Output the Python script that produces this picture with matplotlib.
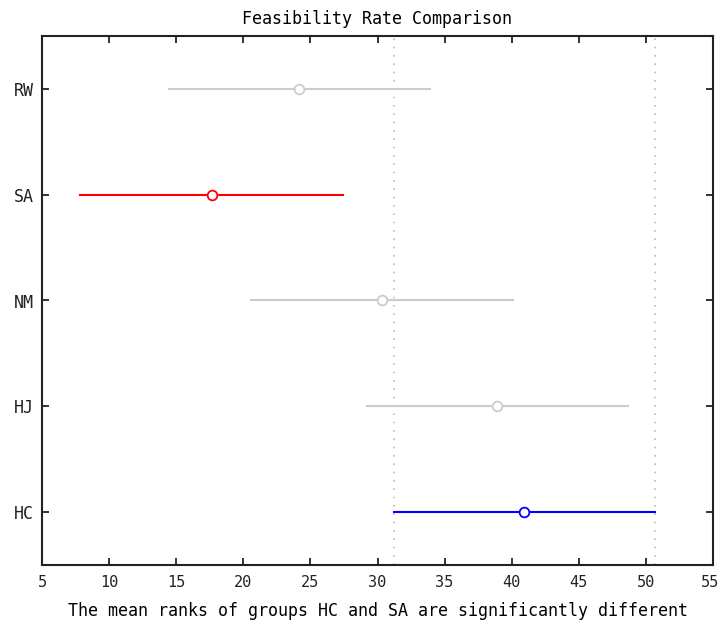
import matplotlib
matplotlib.use("Agg")
import matplotlib.pyplot as plt
import matplotlib.transforms as mtransforms

groups = ["HC", "HJ", "NM", "SA", "RW"]
means = [40.9, 38.9, 30.35, 17.65, 24.15]
lower = [31.2, 29.2, 20.6, 7.85, 14.45]
upper = [50.65, 48.65, 40.1, 27.4, 33.9]
colors = ["#0000ff", "#cccccc", "#cccccc", "#ff0000", "#cccccc"]
ref_lo, ref_hi = 31.2, 50.65
xticks = [5, 10, 15, 20, 25, 30, 35, 40, 45, 50, 55]

plt.rcParams['font.family'] = ['DejaVu Sans Mono']
fig = plt.figure(figsize=(7.21, 6.23), dpi=100)
ax = fig.add_axes([42/721, 1-565/623, (713-42)/721, (565-36)/623])

ypos = list(range(1, len(groups)+1))
for y in (ref_lo, ref_hi):
    ax.axvline(y, color="#bbbbbb", linestyle=(0, (1, 4)), lw=1.2, zorder=1)
for i, g in enumerate(groups):
    ax.plot([lower[i], upper[i]], [ypos[i], ypos[i]], color=colors[i], lw=1.5, zorder=2)
    ax.plot([means[i]], [ypos[i]], marker='o', mfc='white', mec=colors[i], ms=7, mew=1.3, zorder=3)

ax.set_xlim(5, 55)
ax.set_ylim(0.5, len(groups)+0.5)
ax.set_xticks(xticks)
ax.set_yticks(ypos)
ax.set_yticklabels(groups)
ax.tick_params(direction='in', top=True, right=True, length=5, width=1.3, colors='#222222')
ax.tick_params(axis='y', pad=6, labelsize=12)
ax.tick_params(axis='x', pad=7, labelsize=11)
for s in ax.spines.values():
    s.set_linewidth(1.5)
    s.set_color('#222222')
ax.set_title("Feasibility Rate Comparison", fontsize=12, pad=9)
ax.set_xlabel("The mean ranks of groups HC and SA are significantly different", fontsize=12, labelpad=9)

fig.canvas.draw()
last = ax.get_xticklabels()[-1]
last.set_transform(last.get_transform() + mtransforms.ScaledTranslation(-3/100, 0, fig.dpi_scale_trans))
fig.savefig("out.png", dpi=100)
